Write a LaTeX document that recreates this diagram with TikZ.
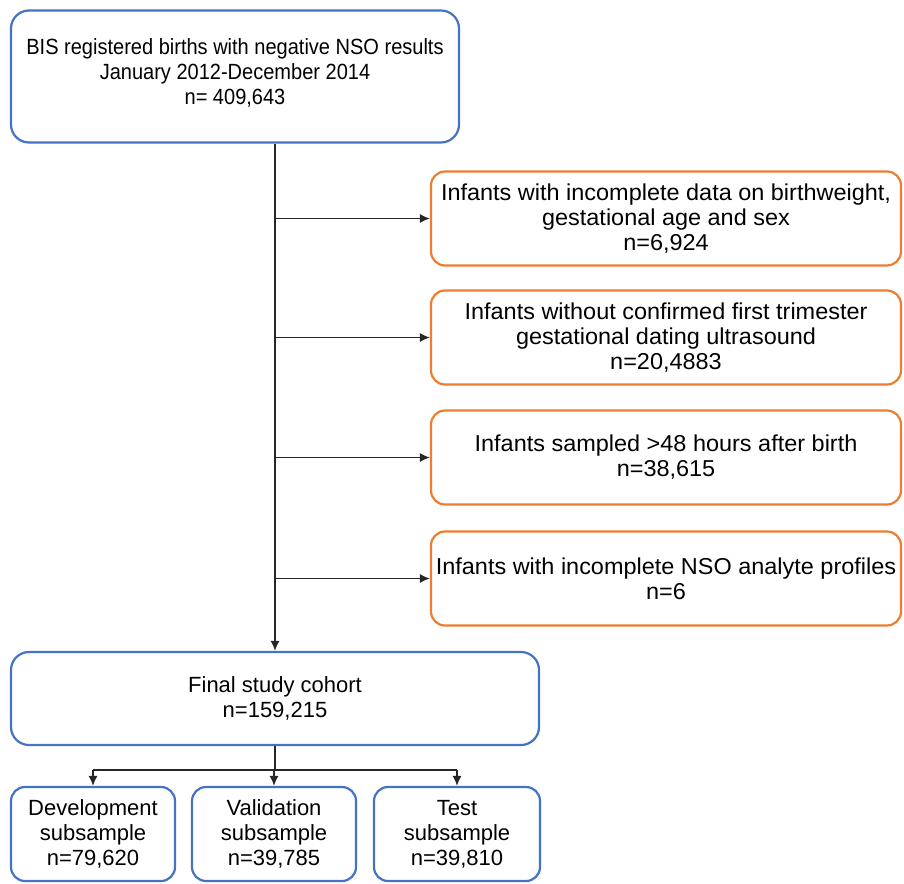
\documentclass[tikz,border=0pt]{standalone}
\usepackage{fontspec}
\setmainfont{Liberation Sans}
\newfontfamily\narrowface{Liberation Sans}[FakeStretch=0.91]
\newfontfamily\wideface{Liberation Sans}[FakeStretch=1.02]
\usetikzlibrary{positioning, arrows.meta}

\definecolor{boxblue}{RGB}{68,114,196}
\definecolor{boxorange}{RGB}{237,125,49}

\begin{document}
\begin{tikzpicture}[x=1pt, y=-1pt, >={Latex[length=10pt,width=9pt]},
        bluebox/.style={rectangle, rounded corners=18pt, draw=boxblue,
            line width=2.2pt, align=center, inner sep=0pt,
            font=\fontsize{22}{25}\selectfont},
        exclbox/.style={rectangle, rounded corners=14pt,
            draw=boxorange, line width=2.2pt, align=center,
            minimum width=470pt, minimum height=94pt, inner sep=0pt,
            font=\wideface\fontsize{23}{25}\selectfont},
        subbox/.style={bluebox, rounded corners=14pt, minimum height=94pt},
        flow/.style={draw=black!85, line width=1.3pt}, ]

    \useasboundingbox (0,0) rectangle (904,883);

    \node[bluebox, minimum width=448pt, minimum height=132pt,
    text depth=10.5pt, font=\narrowface\fontsize{22}{25}\selectfont]
    (births) at (235,76.5) {BIS registered births with negative NSO
        results\\ January 2012-December 2014\\ n= 409,643};

    \node[exclbox] (incomplete) at (666,218.5) {Infants with incomplete
        data on birthweight,\\ gestational age and sex\\ n=6,924};

    \node[exclbox] (ultrasound) at (666,337.5) {Infants without
        confirmed first trimester\\ gestational dating ultrasound\\
        n=20,4883};

    \node[exclbox] (late) at (666,457.5) {Infants sampled >48 hours
        after birth\\ n=38,615};

    \node[exclbox] (analyte) at (666,578.5) {Infants with incomplete NSO
        analyte profiles\\ n=6};

    \node[bluebox, minimum width=528pt, minimum height=93pt] (cohort)
    at (275,698.5) {Final study cohort\\ n=159,215};

    \node[subbox, minimum width=164pt] (development) at (93,834)
    {Development\\ subsample\\ n=79,620};

    \node[subbox, minimum width=164pt] (validation) at (274,834)
    {Validation\\ subsample\\ n=39,785};

    \node[subbox, minimum width=166pt] (test) at (457,834)
    {Test\\ subsample\\ n=39,810};

    \coordinate (split) at (275,770);

    % main line down
    \draw[flow, ->] (births.south -| cohort.north) -- (cohort.north);

    % exclusions
    \foreach \excl in {incomplete, ultrasound, late, analyte}
    \draw[flow, ->] (\excl.west -| cohort.north) -- (\excl.west);

    % split into subsamples
    \draw[flow] (cohort.south) -- (split);
    \draw[flow] (development.north |- split) -- (test.north |- split);
    \foreach \sub in {development, validation, test}
    \draw[flow, ->] (\sub.north |- split) -- (\sub.north);
\end{tikzpicture}
\end{document}
